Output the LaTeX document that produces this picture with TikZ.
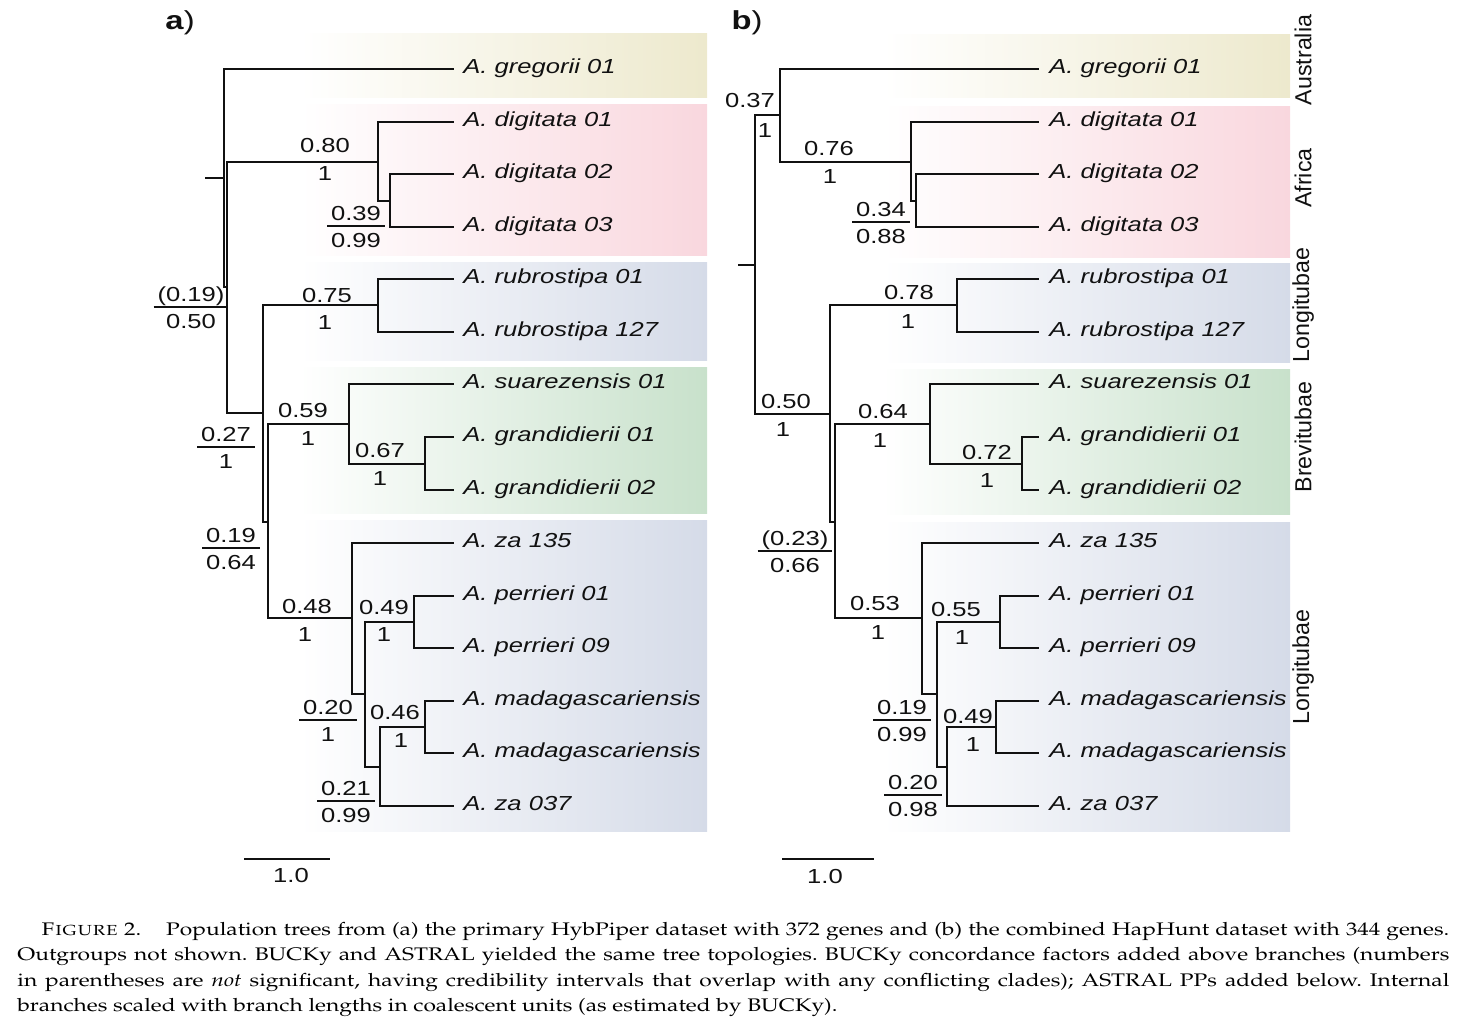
\documentclass[tikz,border=0pt]{standalone}
\usepackage[T1]{fontenc}
\usepackage{fontspec}
\usepackage{graphicx}
\usetikzlibrary{positioning}
\newfontfamily\treefont[FakeStretch=1.26]{Liberation Sans}
\newfontfamily\cladefont{Liberation Sans}
\newcommand\trsize{\fontsize{10.15}{12}\selectfont}
\newcommand\capfont{\fontencoding{T1}\fontfamily{ppl}\fontsize{9.1}{12.67}\selectfont\frenchspacing}
\definecolor{ink}{HTML}{111111}
\definecolor{australia}{HTML}{EDE9CD}
\definecolor{africa}{HTML}{F9D7DE}
\definecolor{longi}{HTML}{D5DBE8}
\definecolor{brevi}{HTML}{C8E1CB}
\setlength{\arrayrulewidth}{0.8pt}
\newcommand\fr[2]{\begin{tabular}{@{\hspace{2pt}}c@{\hspace{2pt}}}#1\\[-1.2pt]\hline\rule{0pt}{10.5pt}#2\end{tabular}}
\tikzset{
  br/.style={draw=ink,line width=1.15pt,line cap=rect},
  band/.style={left color=white,right color=#1},
  tip/.style={inner sep=0pt,text=ink,font=\treefont\trsize\itshape},
  num/.style={inner sep=0pt,text=ink,text height=7.3pt,text depth=0pt,font=\treefont\trsize},
  frac/.style={inner sep=0pt,text=ink,font=\treefont\trsize},
  panel/.style={inner sep=0pt,text=ink,font=\treefont\fontsize{13}{15}\selectfont},
  clade/.style={inner sep=0pt,rotate=90,text=ink,font=\cladefont\fontsize{11.6}{13}\selectfont}
}
\begin{document}
\begin{tikzpicture}[x=0.5pt,y=-0.5pt]
    \useasboundingbox (0,0) rectangle (1466,1030);

    % colour bands
    \path[band=australia] (300,33) rectangle (707,97);
    \path[band=africa] (300,104) rectangle (707,255);
    \path[band=longi] (300,262) rectangle (707,360);
    \path[band=brevi] (300,367) rectangle (707,513);
    \path[band=longi] (300,520) rectangle (707,831);
    \path[band=australia] (883,34) rectangle (1290,97);
    \path[band=africa] (883,106) rectangle (1290,257);
    \path[band=longi] (883,263) rectangle (1290,362);
    \path[band=brevi] (883,369) rectangle (1290,514);
    \path[band=longi] (883,522) rectangle (1290,831);

    \node[panel] (pa) at (180,23) {\textbf{a})};
    \node[panel] (pb) at (747,23) {\textbf{b})};

    % tree a
    \coordinate (aS) at (206,178);
    \coordinate (aR) at (224,178);
    \coordinate (aX) at (227,287);
    \coordinate (aD) at (378,162);
    \coordinate (aD2) at (390,201);
    \coordinate (aY) at (263,413);
    \coordinate (aRb) at (378,305);
    \coordinate (aZ) at (268,522);
    \coordinate (aBr) at (349,424);
    \coordinate (aG) at (425,464);
    \coordinate (aL1) at (352,618);
    \coordinate (aL2) at (365,694);
    \coordinate (aP) at (414,622);
    \coordinate (aL3) at (380,767);
    \coordinate (aM) at (425,727);
    \coordinate (a0) at (453,69);
    \coordinate (a1) at (453,122);
    \coordinate (a2) at (453,174);
    \coordinate (a3) at (453,227);
    \coordinate (a4) at (453,279);
    \coordinate (a5) at (453,332);
    \coordinate (a6) at (453,384);
    \coordinate (a7) at (453,437);
    \coordinate (a8) at (453,490);
    \coordinate (a9) at (453,543);
    \coordinate (a10) at (453,596);
    \coordinate (a11) at (453,648);
    \coordinate (a12) at (453,701);
    \coordinate (a13) at (453,753);
    \coordinate (a14) at (453,806);

    \draw[br] (aS) -- (aR);
    \draw[br] (aR) |- (a0);
    \draw[br] (aR) |- (aX);
    \draw[br] (aX) |- (aD);
    \draw[br] (aX) |- (aY);
    \draw[br] (aD) |- (a1);
    \draw[br] (aD) |- (aD2);
    \draw[br] (aD2) |- (a2);
    \draw[br] (aD2) |- (a3);
    \draw[br] (aY) |- (aRb);
    \draw[br] (aY) |- (aZ);
    \draw[br] (aRb) |- (a4);
    \draw[br] (aRb) |- (a5);
    \draw[br] (aZ) |- (aBr);
    \draw[br] (aZ) |- (aL1);
    \draw[br] (aBr) |- (a6);
    \draw[br] (aBr) |- (aG);
    \draw[br] (aG) |- (a7);
    \draw[br] (aG) |- (a8);
    \draw[br] (aL1) |- (a9);
    \draw[br] (aL1) |- (aL2);
    \draw[br] (aL2) |- (aP);
    \draw[br] (aL2) |- (aL3);
    \draw[br] (aP) |- (a10);
    \draw[br] (aP) |- (a11);
    \draw[br] (aL3) |- (aM);
    \draw[br] (aL3) |- (a14);
    \draw[br] (aM) |- (a12);
    \draw[br] (aM) |- (a13);

    \node[tip,mid right=5pt of a0] (na0) {A. gregorii 01};
    \node[tip,mid right=5pt of a1] (na1) {A. digitata 01};
    \node[tip,mid right=5pt of a2] (na2) {A. digitata 02};
    \node[tip,mid right=5pt of a3] (na3) {A. digitata 03};
    \node[tip,mid right=5pt of a4] (na4) {A. rubrostipa 01};
    \node[tip,mid right=5pt of a5] (na5) {A. rubrostipa 127};
    \node[tip,mid right=5pt of a6] (na6) {A. suarezensis 01};
    \node[tip,mid right=5pt of a7] (na7) {A. grandidierii 01};
    \node[tip,mid right=5pt of a8] (na8) {A. grandidierii 02};
    \node[tip,mid right=5pt of a9] (na9) {A. za 135};
    \node[tip,mid right=5pt of a10] (na10) {A. perrieri 01};
    \node[tip,mid right=5pt of a11] (na11) {A. perrieri 09};
    \node[tip,mid right=5pt of a12] (na12) {A. madagascariensis};
    \node[tip,mid right=5pt of a13] (na13) {A. madagascariensis};
    \node[tip,mid right=5pt of a14] (na14) {A. za 037};

    \node[num] (aDcf) at (325,145) {0.80};
    \node[num] (aDpp) at (325,173) {1};
    \node[frac] (aD2fr) at (356,229) {\fr{0.39}{0.99}};
    \node[frac] (aXfr) at (191,310) {\fr{(0.19)}{0.50}};
    \node[frac] (aYfr) at (226,450) {\fr{0.27}{1}};
    \node[num] (aRbcf) at (327,295) {0.75};
    \node[num] (aRbpp) at (325,322) {1};
    \node[frac] (aZfr) at (231,551) {\fr{0.19}{0.64}};
    \node[num] (aBrcf) at (303,410) {0.59};
    \node[num] (aBrpp) at (308,438) {1};
    \node[num] (aGcf) at (380,450) {0.67};
    \node[num] (aGpp) at (380,478) {1};
    \node[num] (aL1cf) at (307,606) {0.48};
    \node[num] (aL1pp) at (305,634) {1};
    \node[num] (aPcf) at (384,607) {0.49};
    \node[num] (aPpp) at (384,634) {1};
    \node[frac] (aL3fr) at (328,723) {\fr{0.20}{1}};
    \node[num] (aMcf) at (395,712) {0.46};
    \node[num] (aMpp) at (401,740) {1};
    \node[frac] (a14fr) at (346,804) {\fr{0.21}{0.99}};

    \coordinate (asb1) at (244,859);
    \coordinate (asb2) at (330,859);
    \draw[br,line cap=butt] (asb1) -- (asb2);
    \node[num] (asb) at (291,875) {1.0};

    % tree b
    \coordinate (bS) at (739,265);
    \coordinate (bR) at (755,265);
    \coordinate (bA) at (780,115);
    \coordinate (bD) at (911,162);
    \coordinate (bD2) at (916,201);
    \coordinate (bB) at (830,414);
    \coordinate (bRb) at (957,305);
    \coordinate (bC) at (835,522);
    \coordinate (bBr) at (930,424);
    \coordinate (bG) at (1022,464);
    \coordinate (bL1) at (922,618);
    \coordinate (bL2) at (937,694);
    \coordinate (bP) at (1000,622);
    \coordinate (bL3) at (947,767);
    \coordinate (bM) at (996,727);
    \coordinate (b0) at (1038,69);
    \coordinate (b1) at (1038,122);
    \coordinate (b2) at (1038,174);
    \coordinate (b3) at (1038,227);
    \coordinate (b4) at (1038,279);
    \coordinate (b5) at (1038,332);
    \coordinate (b6) at (1038,384);
    \coordinate (b7) at (1038,437);
    \coordinate (b8) at (1038,490);
    \coordinate (b9) at (1038,543);
    \coordinate (b10) at (1038,596);
    \coordinate (b11) at (1038,648);
    \coordinate (b12) at (1038,701);
    \coordinate (b13) at (1038,753);
    \coordinate (b14) at (1038,806);

    \draw[br] (bS) -- (bR);
    \draw[br] (bR) |- (bA);
    \draw[br] (bR) |- (bB);
    \draw[br] (bA) |- (b0);
    \draw[br] (bA) |- (bD);
    \draw[br] (bD) |- (b1);
    \draw[br] (bD) |- (bD2);
    \draw[br] (bD2) |- (b2);
    \draw[br] (bD2) |- (b3);
    \draw[br] (bB) |- (bRb);
    \draw[br] (bB) |- (bC);
    \draw[br] (bRb) |- (b4);
    \draw[br] (bRb) |- (b5);
    \draw[br] (bC) |- (bBr);
    \draw[br] (bC) |- (bL1);
    \draw[br] (bBr) |- (b6);
    \draw[br] (bBr) |- (bG);
    \draw[br] (bG) |- (b7);
    \draw[br] (bG) |- (b8);
    \draw[br] (bL1) |- (b9);
    \draw[br] (bL1) |- (bL2);
    \draw[br] (bL2) |- (bP);
    \draw[br] (bL2) |- (bL3);
    \draw[br] (bP) |- (b10);
    \draw[br] (bP) |- (b11);
    \draw[br] (bL3) |- (bM);
    \draw[br] (bL3) |- (b14);
    \draw[br] (bM) |- (b12);
    \draw[br] (bM) |- (b13);

    \node[tip,mid right=5.5pt of b0] (nb0) {A. gregorii 01};
    \node[tip,mid right=5.5pt of b1] (nb1) {A. digitata 01};
    \node[tip,mid right=5.5pt of b2] (nb2) {A. digitata 02};
    \node[tip,mid right=5.5pt of b3] (nb3) {A. digitata 03};
    \node[tip,mid right=5.5pt of b4] (nb4) {A. rubrostipa 01};
    \node[tip,mid right=5.5pt of b5] (nb5) {A. rubrostipa 127};
    \node[tip,mid right=5.5pt of b6] (nb6) {A. suarezensis 01};
    \node[tip,mid right=5.5pt of b7] (nb7) {A. grandidierii 01};
    \node[tip,mid right=5.5pt of b8] (nb8) {A. grandidierii 02};
    \node[tip,mid right=5.5pt of b9] (nb9) {A. za 135};
    \node[tip,mid right=5.5pt of b10] (nb10) {A. perrieri 01};
    \node[tip,mid right=5.5pt of b11] (nb11) {A. perrieri 09};
    \node[tip,mid right=5.5pt of b12] (nb12) {A. madagascariensis};
    \node[tip,mid right=5.5pt of b13] (nb13) {A. madagascariensis};
    \node[tip,mid right=5.5pt of b14] (nb14) {A. za 037};

    \node[num] (bAcf) at (750,100) {0.37};
    \node[num] (bApp) at (765,130) {1};
    \node[num] (bDcf) at (829,148) {0.76};
    \node[num] (bDpp) at (830,176) {1};
    \node[frac] (bD2fr) at (881,225) {\fr{0.34}{0.88}};
    \node[num] (bRbcf) at (909,292) {0.78};
    \node[num] (bRbpp) at (908,321) {1};
    \node[num] (bBcf) at (786,401) {0.50};
    \node[num] (bBpp) at (783,429) {1};
    \node[frac] (bCfr) at (795,554) {\fr{(0.23)}{0.66}};
    \node[num] (bBrcf) at (883,411) {0.64};
    \node[num] (bBrpp) at (880,440) {1};
    \node[num] (bGcf) at (987,452) {0.72};
    \node[num] (bGpp) at (987,480) {1};
    \node[num] (bL1cf) at (875,603) {0.53};
    \node[num] (bL1pp) at (878,632) {1};
    \node[num] (bPcf) at (956,609) {0.55};
    \node[num] (bPpp) at (962,637) {1};
    \node[frac] (bL3fr) at (902,723) {\fr{0.19}{0.99}};
    \node[num] (bMcf) at (968,716) {0.49};
    \node[num] (bMpp) at (973,744) {1};
    \node[frac] (b14fr) at (913,798) {\fr{0.20}{0.98}};

    \coordinate (bsb1) at (782,859);
    \coordinate (bsb2) at (874,859);
    \draw[br,line cap=butt] (bsb1) -- (bsb2);
    \node[num] (bsb) at (825,876) {1.0};

    \node[clade] (cAus) at (1303,60) {Australia};
    \node[clade] (cAfr) at (1303,178) {Africa};
    \node[clade] (cLon1) at (1303,305) {Longitubae};
    \node[clade] (cBre) at (1303,437) {Brevitubae};
    \node[clade] (cLon2) at (1303,667) {Longitubae};

    % caption
    \node[anchor=north west,inner sep=0pt] (cap) at (17,922) {\scalebox{1.25}[1]{\parbox[t]{572.8pt}{\capfont
      \makebox[\linewidth][s]{\hspace*{9.5pt}\textsc{Figure} 2.\hspace{10pt}Population trees from (a) the primary HybPiper dataset with 372 genes and (b) the combined HapHunt dataset with 344 genes.}\\
      \makebox[\linewidth][s]{Outgroups not shown. BUCKy and ASTRAL yielded the same tree topologies. BUCKy concordance factors added above branches (numbers}\\
      \makebox[\linewidth][s]{in parentheses are \textit{not} significant, having credibility intervals that overlap with any conflicting clades); ASTRAL PPs added below. Internal}\\
      branches scaled with branch lengths in coalescent units (as estimated by BUCKy).}}};
  \end{tikzpicture}
\end{document}
